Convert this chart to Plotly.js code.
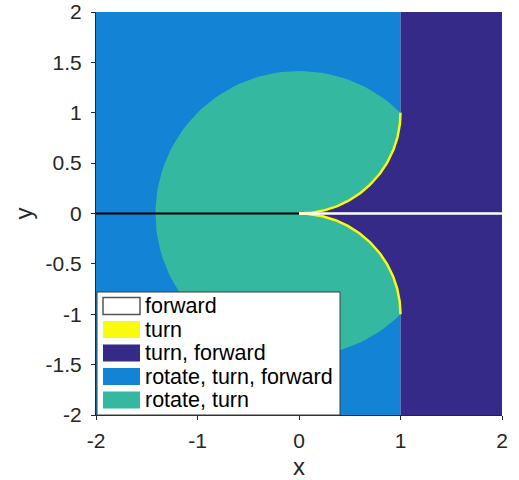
<!DOCTYPE html>
<html>
<head>
<meta charset="utf-8">
<script src="https://cdn.plot.ly/plotly-3.0.1.min.js"></script>
<style>html,body{margin:0;padding:0;background:#fff;}#chart{width:519px;height:480px;}</style>
</head>
<body>
<div id="chart"></div>
<script>
// ---- data ----
const xTickVals = [-2, -1, 0, 1, 2];
const xTickText = ['-2', '-1', '0', '1', '2'];
const yTickVals = [-2, -1.5, -1, -0.5, 0, 0.5, 1, 1.5, 2];
const yTickText = ['-2', '-1.5', '-1', '-0.5', '0', '0.5', '1', '1.5', '2'];
const legendLabels = ['forward', 'turn', 'turn, forward', 'rotate, turn, forward', 'rotate, turn'];
const legendColors = ['#ffffff', '#f9fb0e', '#352a87', '#1283d5', '#34b8a0'];
const axisRange = [-2, 2];              // both axes
const forwardLimitX = [1];               // "turn, forward" starts at x = 1
const rotateRadius = [1.4142];           // radius of "rotate, turn" disk
const turnArcRadius = [1];               // radius of the "turn" arcs
const turnArcCentersY = [1, -1];         // arc centres (x = 0)
const forwardLineX = [0, 2];             // white "forward" segment on y = 0
const blackLineX = [-2, 0];              // black segment on y = 0

// ---- geometry built from the parameters ----
const N = 120;
function arc(cx, cy, r, a0, a1) {
  const xs = [], ys = [];
  for (let i = 0; i <= N; i++) {
    const a = a0 + (a1 - a0) * i / N;
    xs.push(cx + r * Math.cos(a)); ys.push(cy + r * Math.sin(a));
  }
  return [xs, ys];
}
const R = rotateRadius[0], r = turnArcRadius[0], xf = forwardLimitX[0];
const [lo, hi] = axisRange;
const upArc = arc(0, turnArcCentersY[0], r, -Math.PI / 2, 0);
const lowArc = arc(0, turnArcCentersY[1], r, 0, Math.PI / 2);
const aEdge = Math.acos(xf / R);
const bigArc = arc(0, 0, R, aEdge, 2 * Math.PI - aEdge);

const blueTrace = {
  x: [lo, xf, xf, lo, lo], y: [lo, lo, hi, hi, lo],
  fill: 'toself', fillcolor: legendColors[3], mode: 'lines', line: {width: 0},
  name: legendLabels[3], hoverinfo: 'skip', showlegend: false
};
const navyTrace = {
  x: [xf, hi, hi, xf].concat(lowArc[0], upArc[0], [xf]),
  y: [hi, hi, lo, lo].concat(lowArc[1], upArc[1], [hi]),
  fill: 'toself', fillcolor: legendColors[2], mode: 'lines', line: {width: 0},
  name: legendLabels[2], hoverinfo: 'skip', showlegend: false
};
const tealTrace = {
  x: bigArc[0].concat(lowArc[0], upArc[0]),
  y: bigArc[1].concat(lowArc[1], upArc[1]),
  fill: 'toself', fillcolor: legendColors[4], mode: 'lines', line: {width: 0},
  name: legendLabels[4], hoverinfo: 'skip', showlegend: false
};
const yellowUp = {x: upArc[0], y: upArc[1], mode: 'lines', line: {color: legendColors[1], width: 2.5},
  name: legendLabels[1], hoverinfo: 'skip', showlegend: false};
const yellowLow = {x: lowArc[0], y: lowArc[1], mode: 'lines', line: {color: legendColors[1], width: 2.5},
  name: legendLabels[1], hoverinfo: 'skip', showlegend: false};
const blackLine = {x: blackLineX, y: [0, 0], mode: 'lines', line: {color: '#000000', width: 2.2},
  hoverinfo: 'skip', showlegend: false};
const whiteLine = {x: forwardLineX, y: [0, 0], mode: 'lines', line: {color: legendColors[0], width: 2.4},
  name: legendLabels[0], hoverinfo: 'skip', showlegend: false};

// ---- layout ----
const W = 519, H = 480, M = {l: 96, r: 17, t: 12, b: 65};
const pw = W - M.l - M.r, ph = H - M.t - M.b;
const px = p => (p - M.l) / pw;
const py = p => (H - M.b - p) / ph;

const FONT = '"Liberation Sans", Arial, Helvetica, sans-serif';
const shapes = [{
  type: 'rect', xref: 'paper', yref: 'paper',
  x0: px(97), x1: px(340), y0: py(415), y1: py(292),
  fillcolor: '#ffffff', line: {color: '#3c3c3c', width: 1}
}];
const annotations = [];
const rowY = [306, 329.5, 353, 376.5, 400];
legendLabels.forEach((lab, i) => {
  shapes.push({
    type: 'rect', xref: 'paper', yref: 'paper',
    x0: px(103), x1: px(140), y0: py(rowY[i] + 8.5), y1: py(rowY[i] - 8.5),
    fillcolor: legendColors[i],
    line: i === 0 ? {color: '#555555', width: 1.5} : {width: 0}
  });
  annotations.push({
    xref: 'paper', yref: 'paper', x: px(143), y: py(rowY[i]),
    xanchor: 'left', yanchor: 'middle', showarrow: false,
    text: lab, font: {family: FONT, size: 21.5, color: '#000000'}
  });
});

const axisCommon = {
  range: axisRange, showgrid: false, zeroline: false,
  showline: true, linecolor: '#262626', linewidth: 1,
  ticks: 'outside', ticklen: 4, tickwidth: 1, tickcolor: '#262626',
  tickfont: {family: FONT, size: 21, color: '#262626'},
  ticklabeloverflow: 'allow', fixedrange: true
};
const layout = {
  width: W, height: H, margin: M,
  paper_bgcolor: '#ffffff', plot_bgcolor: '#ffffff',
  showlegend: false,
  xaxis: Object.assign({}, axisCommon, {
    tickvals: xTickVals, ticktext: xTickText, ticklabelstandoff: 3,
    title: {text: 'x', font: {family: FONT, size: 24, color: '#262626'}, standoff: 6}
  }),
  yaxis: Object.assign({}, axisCommon, {
    tickvals: yTickVals, ticktext: yTickText, ticklabelstandoff: 5,
    title: {text: 'y', font: {family: FONT, size: 24, color: '#262626'}, standoff: 6}
  }),
  shapes: shapes, annotations: annotations
};

Plotly.newPlot('chart',
  [blueTrace, navyTrace, tealTrace, yellowUp, yellowLow, blackLine, whiteLine],
  layout, {staticPlot: true, displayModeBar: false});
</script>
</body>
</html>
